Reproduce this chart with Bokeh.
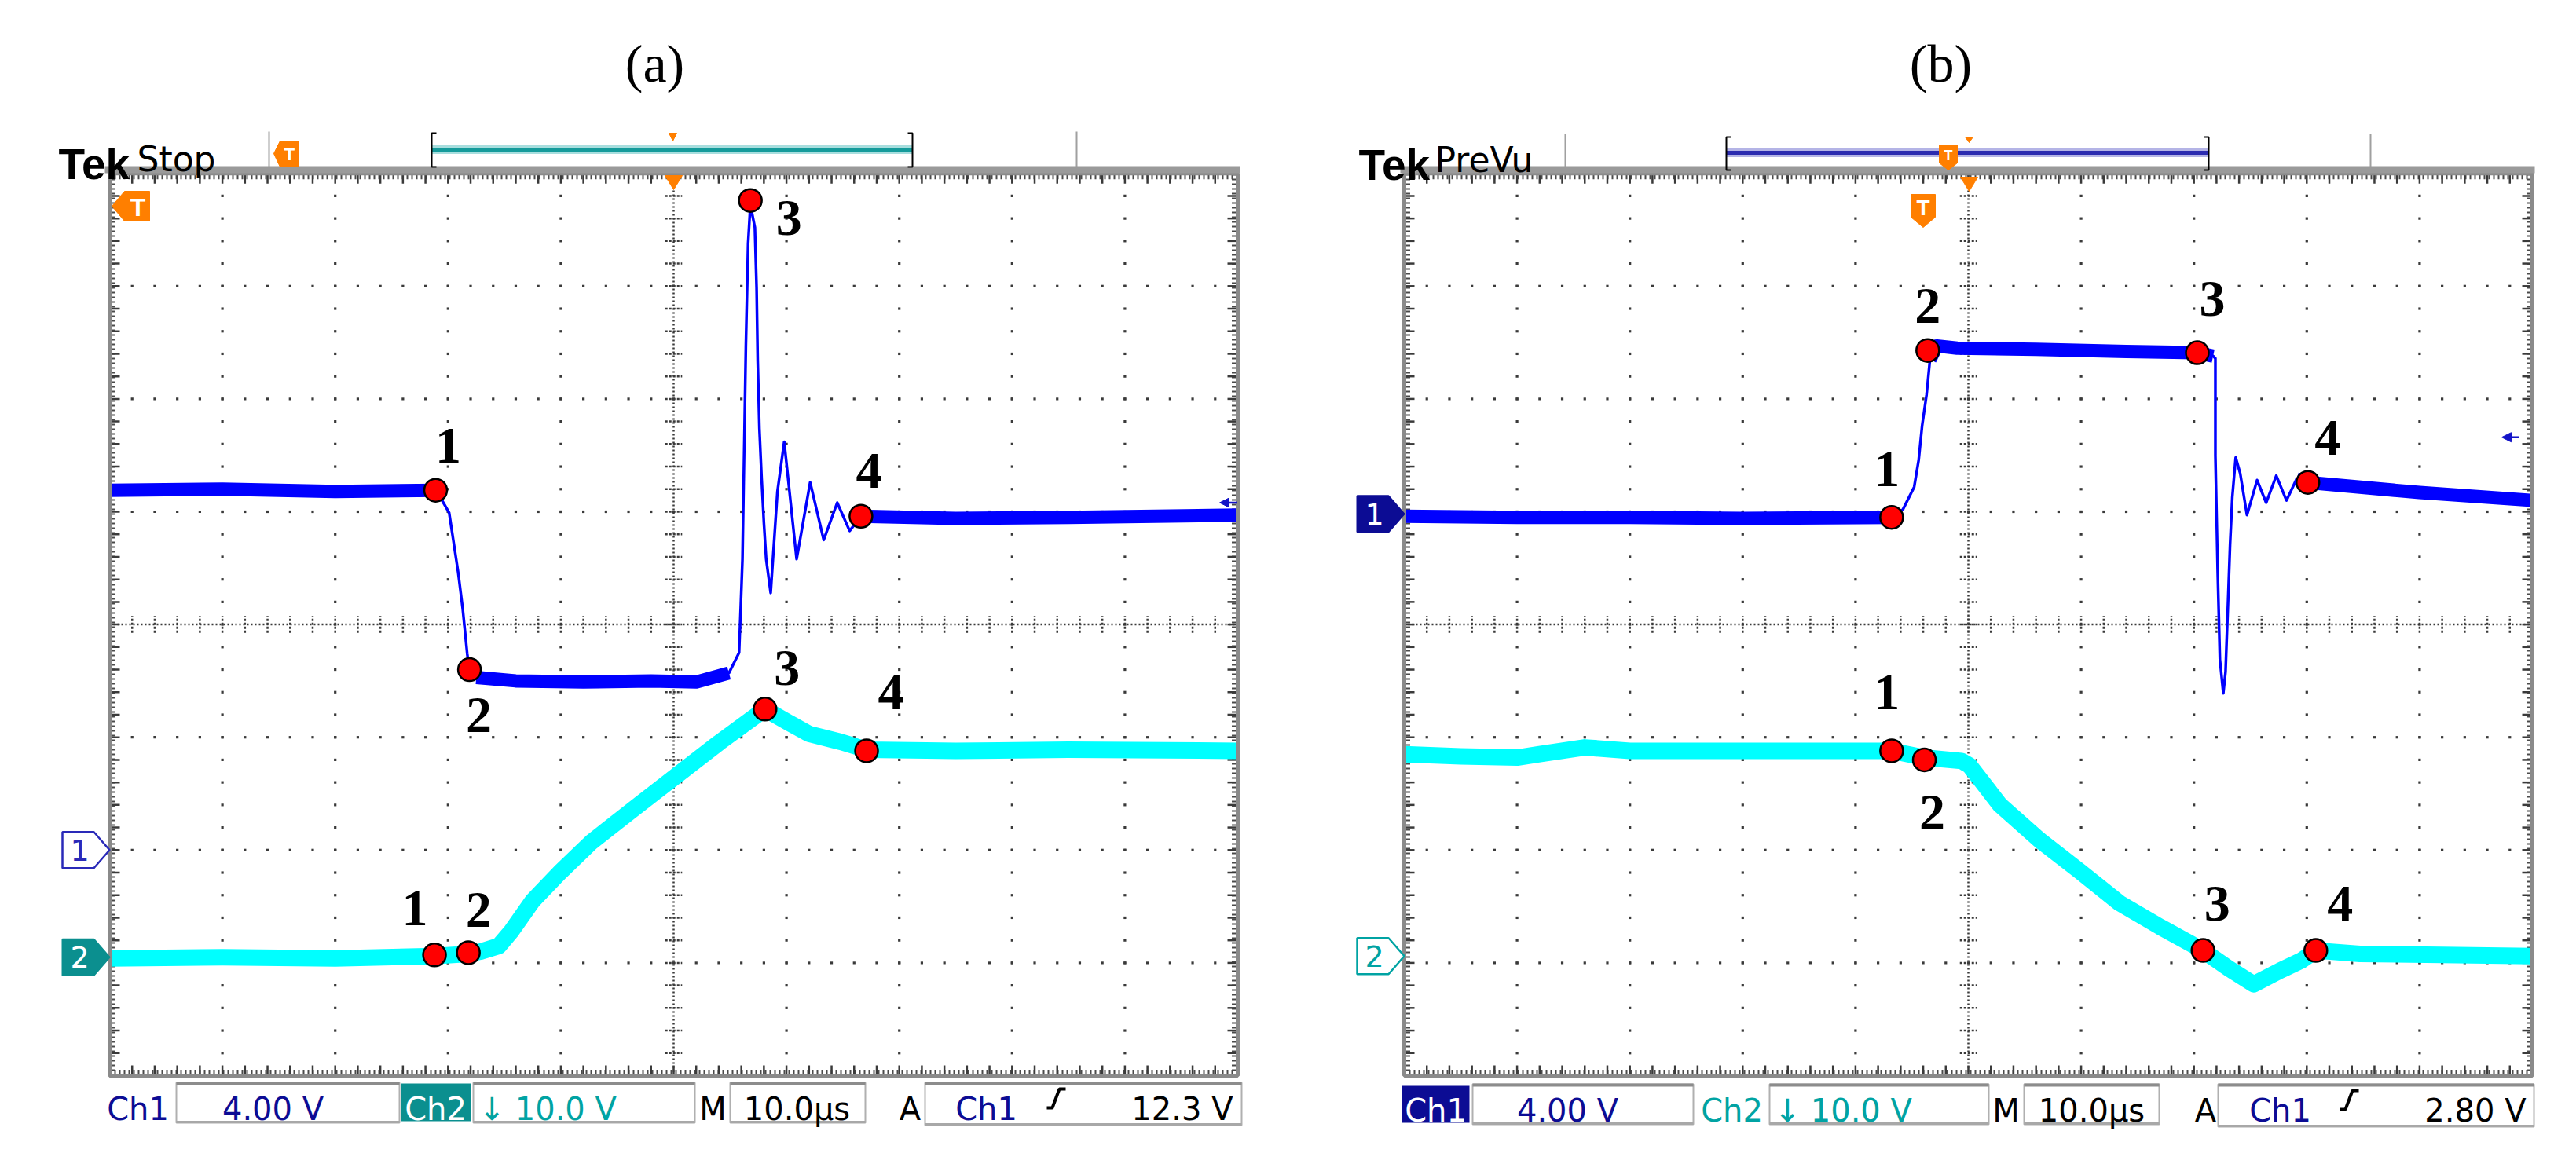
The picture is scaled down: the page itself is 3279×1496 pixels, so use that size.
from bokeh.plotting import figure
from bokeh.layouts import row
from bokeh.models import Range1d
from bokeh.core.properties import value
from bokeh.embed import file_html
from bokeh.resources import INLINE

# ---------------- data (graticule divisions: x 0..10 = time div (10 us/div), y 0..8 div from bottom)
# panel (a)
a_ch1_t = [0.0, 1.0, 2.0, 2.89, 2.93, 3.01, 3.09, 3.13, 3.17, 3.19, 3.25, 3.6, 4.2, 4.8, 5.2,
           5.49, 5.58, 5.61, 5.62, 5.64, 5.66, 5.68, 5.72, 5.735, 5.745, 5.76, 5.78, 5.80, 5.82,
           5.86, 5.92, 5.98, 6.09, 6.21, 6.33, 6.45, 6.56, 6.66, 7.5, 8.5, 10.0]
a_ch1_v = [5.19, 5.20, 5.18, 5.19, 5.13, 4.99, 4.46, 4.14, 3.74, 3.60, 3.53, 3.50, 3.49, 3.50, 3.49,
           3.57, 3.75, 4.58, 5.22, 6.47, 7.38, 7.72, 7.52, 6.99, 6.34, 5.74, 5.29, 4.90, 4.58,
           4.28, 5.18, 5.62, 4.58, 5.26, 4.75, 5.08, 4.83, 4.96, 4.94, 4.95, 4.97]
a_ch1_mt = [2.89, 3.19, 5.68, 6.66]
a_ch1_mv = [5.19, 3.60, 7.76, 4.96]

a_ch2_t = [0.0, 1.0, 2.0, 2.88, 3.18, 3.29, 3.45, 3.56, 3.75, 4.00, 4.27, 4.60, 5.00, 5.40, 5.81,
           6.02, 6.20, 6.48, 6.71, 7.5, 8.5, 10.0]
a_ch2_v = [1.04, 1.05, 1.04, 1.06, 1.08, 1.10, 1.15, 1.28, 1.55, 1.81, 2.07, 2.33, 2.64, 2.95, 3.25,
           3.13, 3.03, 2.96, 2.89, 2.88, 2.89, 2.88]
a_ch2_mt = [2.88, 3.18, 5.81, 6.71]
a_ch2_mv = [1.07, 1.09, 3.25, 2.88]

# panel (b)
b_ch1_t = [0.0, 1.0, 2.0, 3.0, 4.32, 4.42, 4.52, 4.56, 4.59, 4.63, 4.66, 4.72, 4.9, 5.6, 6.4, 7.03,
           7.17, 7.19, 7.19, 7.21, 7.23, 7.26, 7.28, 7.30, 7.32, 7.34, 7.37, 7.41, 7.47, 7.56, 7.64,
           7.73, 7.82, 7.91, 8.01, 9.0, 10.0]
b_ch1_v = [4.96, 4.95, 4.95, 4.94, 4.95, 5.02, 5.22, 5.46, 5.76, 6.04, 6.35, 6.47, 6.45, 6.44, 6.42, 6.41,
           6.38, 6.36, 5.50, 4.49, 3.69, 3.39, 3.58, 4.14, 4.71, 5.13, 5.48, 5.34, 4.97, 5.28, 5.08,
           5.32, 5.10, 5.29, 5.26, 5.17, 5.10]
b_ch1_mt = [4.32, 4.64, 7.03, 8.01]
b_ch1_mv = [4.95, 6.43, 6.41, 5.26]

b_ch2_t = [0.0, 0.5, 1.0, 1.2, 1.6, 2.0, 3.0, 4.32, 4.61, 4.94, 5.01, 5.28, 5.63, 5.99, 6.34, 6.70,
           7.08, 7.31, 7.53, 7.76, 7.95, 8.08, 8.47, 9.2, 10.0]
b_ch2_v = [2.85, 2.83, 2.82, 2.85, 2.91, 2.88, 2.88, 2.88, 2.82, 2.79, 2.75, 2.40, 2.09, 1.81, 1.53, 1.32,
           1.11, 0.95, 0.81, 0.93, 1.02, 1.11, 1.08, 1.07, 1.06]
b_ch2_mt = [4.32, 4.61, 7.08, 8.08]
b_ch2_mv = [2.88, 2.80, 1.11, 1.11]

point_labels = ["1", "2", "3", "4"]
# channel reference levels and trigger levels (div)
a_ref = {"ch1": 2.0, "ch2": 1.05, "trig": 5.08}
b_ref = {"ch1": 4.98, "ch2": 1.06, "trig": 5.66}

a_status = ["Ch1", "4.00 V", "Ch2", "\u2193 10.0 V", "M", "10.0\u00b5s", "A", "Ch1", "12.3 V"]
b_status = ["Ch1", "4.00 V", "Ch2", "\u2193 10.0 V", "M", "10.0\u00b5s", "A", "Ch1", "2.80 V"]

# ---------------- styling / layout
D = 143.6          # px per division
GB = 1377          # graticule bottom (px from top of page)
BLUE = "#0000ff"
CYAN = "#00ffff"
NAVY = "#0c0c94"
TEALT = "#00a3a3"
TEALF = "#0b8f8f"
ORANGE = "#ff7f00"
SANS = "DejaVu Sans"


def make_panel(gl, cx0, cx1):
    X = lambda px: (px - gl) / D
    Y = lambda py: (GB - py) / D
    p = figure(width=cx1 - cx0, height=1480,
               x_range=Range1d(X(cx0), X(cx1)), y_range=Range1d(Y(1488), Y(8)),
               output_backend="svg", toolbar_location=None, min_border=0,
               x_axis_location=None, y_axis_location=None)
    p.grid.visible = False
    p.outline_line_color = None
    p.background_fill_color = "white"
    p.border_fill_color = "white"
    return p, X, Y


def txt(p, x, y, s, size, color="black", font=SANS, style="normal", align="center", baseline="middle"):
    p.text(x=[x], y=[y], text=[s], text_font=value(font), text_font_size=value(f"{size}px"),
           text_color=color, text_font_style=style, text_align=align, text_baseline=baseline)


def graticule(p):
    p.quad(left=0, right=10, bottom=0, top=8, fill_color="white", line_color=None)
    gx, gy = [], []
    for k in range(1, 10):
        if k == 5:
            continue
        for j in range(1, 40):
            gx.append(k); gy.append(j * 0.2)
    for k in range(1, 8):
        if k == 4:
            continue
        for j in range(1, 50):
            gx.append(j * 0.2); gy.append(k)
    p.scatter(gx, gy, marker="square", size=3.2, fill_color="#3a3a3a", line_color=None)
    # centre cross
    p.segment(x0=[5, 0], y0=[0, 4], x1=[5, 10], y1=[8, 4], line_color="#3a3a3a",
              line_width=2.5, line_dash="2 3")
    tv = [j * 0.2 for j in range(1, 40)]
    th = [j * 0.2 for j in range(1, 50)]
    h = 0.075
    p.segment(x0=[5 - h] * len(tv), y0=tv, x1=[5 + h] * len(tv), y1=tv,
              line_color="#3a3a3a", line_width=2.5, line_dash="3 2")
    p.segment(x0=th, y0=[4 - h] * len(th), x1=th, y1=[4 + h] * len(th),
              line_color="#3a3a3a", line_width=2.5, line_dash="3 2")
    # edge rulers
    e = 4 / D
    p.segment(x0=[0, 0, e, 10 - e], y0=[8 - e, e, 0, 0], x1=[10, 10, e, 10 - e], y1=[8 - e, e, 8, 8],
              line_color="#4a4a4a", line_width=7, line_dash="2 4")
    L = 13 / D
    p.segment(x0=th, y0=[8] * len(th), x1=th, y1=[8 - L] * len(th), line_color="#3a3a3a", line_width=2.5)
    p.segment(x0=th, y0=[0] * len(th), x1=th, y1=[L] * len(th), line_color="#3a3a3a", line_width=2.5)
    p.segment(x0=[0] * len(tv), y0=tv, x1=[L] * len(tv), y1=tv, line_color="#3a3a3a", line_width=2.5)
    p.segment(x0=[10] * len(tv), y0=tv, x1=[10 - L] * len(tv), y1=tv, line_color="#3a3a3a", line_width=2.5)


def border(p):
    p.quad(left=0, right=10, bottom=0, top=8, fill_color=None, line_color="#8a8a8a", line_width=5)


def trace(p, t, v, color, thin, thick, intervals):
    p.line(t, v, line_color=color, line_width=thin, line_join="round")
    for a, b in intervals:
        idx = [i for i, tt in enumerate(t) if a <= tt <= b]
        p.line([t[i] for i in idx], [v[i] for i in idx], line_color=color,
               line_width=thick, line_join="round")


def points(p, mt, mv, dx, dy):
    p.scatter(mt, mv, marker="circle", size=29, fill_color="#ff0000", line_color="black", line_width=2.5)
    lx = [t + a / D for t, a in zip(mt, dx)]
    ly = [v - b / D for v, b in zip(mv, dy)]
    p.text(x=lx, y=ly, text=point_labels, text_font=value("Liberation Serif"),
           text_font_size=value("66px"), text_color="black", text_align="center",
           text_baseline="middle", text_font_style="bold")


def poly(p, X, Y, pts, fill, line=None, lw=2, dash="solid"):
    p.patch([X(a) for a, b in pts], [Y(b) for a, b in pts], fill_color=fill,
            line_color=line, line_width=lw, line_dash=dash)


def ch_marker(p, X, Y, gl, level, label, color, filled):
    ymid = GB - level * D
    pts = [(gl - 60, ymid - 23), (gl - 20, ymid - 23), (gl, ymid), (gl - 20, ymid + 23), (gl - 60, ymid + 23)]
    if filled:
        poly(p, X, Y, pts, color, color, 2)
        txt(p, X(gl - 38), level, label, 38, "white")
    else:
        poly(p, X, Y, pts, "white", color, 2.5)
        txt(p, X(gl - 38), level, label, 38, color)


def status_box(p, X, Y, x0, x1, y0, y1):
    p.quad(left=X(x0), right=X(x1), top=Y(y0), bottom=Y(y1), fill_color="white",
           line_color="#b0b0b0", line_width=2)
    p.segment(x0=X(x0), y0=Y(y0 + 1), x1=X(x1), y1=Y(y0 + 1), line_color="#8c8c8c", line_width=4)
    p.segment(x0=X(x0), y0=Y(y1 - 1), x1=X(x1), y1=Y(y1 - 1), line_color="#a8a8a8", line_width=3)


def slope_icon(p, X, Y, x0, yb):
    p.line([X(x0), X(x0 + 7), X(x0 + 16), X(x0 + 24)], [Y(yb), Y(yb), Y(yb - 24), Y(yb - 24)],
           line_color="black", line_width=4)


def trig_arrow(p, X, xr, level):
    p.patch([X(xr - 14), X(xr - 2), X(xr - 2)], [level, level + 6 / D, level - 6 / D],
            fill_color="#1414c8", line_color="#1414c8")
    p.segment(x0=X(xr - 2), y0=level, x1=X(xr + 8), y1=level, line_color="#1414c8", line_width=2.5)


FS = 40
BASE = 1419
W1, W2 = 17, 21

# ======================= panel (a)
pa, Xa, Ya = make_panel(147, 8, 1640)
graticule(pa)
trace(pa, a_ch2_t, a_ch2_v, CYAN, W2, W2, [])
trace(pa, a_ch1_t, a_ch1_v, BLUE, 3.5, W1, [(0, 2.9), (3.22, 5.5), (6.6, 10)])
border(pa)
points(pa, a_ch1_mt, a_ch1_mv, [16, 12, 49, 10], [-57, 58, 22, -58])
points(pa, a_ch2_mt, a_ch2_mv, [-25, 13, 28, 31], [-59, -54, -52, -74])
ch_marker(pa, Xa, Ya, 147, a_ref["ch1"], "1", "#2a2ab8", False)
ch_marker(pa, Xa, Ya, 147, a_ref["ch2"], "2", TEALF, True)
trig_arrow(pa, Xa, 1574, a_ref["trig"])
# title
txt(pa, Xa(841), Ya(88), "(a)", 68, font="Liberation Serif")
# header
pa.segment(x0=[Xa(350), Xa(1378)], y0=[Ya(175)] * 2, x1=[Xa(350), Xa(1378)], y1=[Ya(222)] * 2,
           line_color="#a0a0a0", line_width=2)
pa.quad(left=Xa(141), right=Xa(1586), top=Ya(219), bottom=Ya(228), fill_color="#9a9a9a", line_color=None)
txt(pa, Xa(82), Ya(216), "Tek", 55, font="Liberation Sans", style="bold", align="left", baseline="alphabetic")
txt(pa, Xa(182), Ya(210), "Stop", 44, font=SANS, align="left", baseline="alphabetic")
pa.segment(x0=Xa(557), y0=Ya(198), x1=Xa(1169), y1=Ya(198), line_color="#a8dede", line_width=11)
pa.segment(x0=Xa(557), y0=Ya(198), x1=Xa(1169), y1=Ya(198), line_color="#159b9b", line_width=5)
pa.line([Xa(563), Xa(557), Xa(557), Xa(563)], [Ya(177), Ya(177), Ya(220), Ya(220)], line_color="black", line_width=2)
pa.line([Xa(1163), Xa(1169), Xa(1169), Xa(1163)], [Ya(177), Ya(177), Ya(220), Ya(220)], line_color="black", line_width=2)
poly(pa, Xa, Ya, [(356, 203), (364, 187), (387, 187), (387, 220), (364, 220)], ORANGE, ORANGE, 1)
txt(pa, Xa(376), Ya(204), "T", 22, "white", font="Liberation Sans", style="bold")
poly(pa, Xa, Ya, [(859, 177), (869, 177), (864, 187)], ORANGE, ORANGE, 1)
poly(pa, Xa, Ya, [(854, 231), (876, 231), (865, 249)], ORANGE, ORANGE, 1)
poly(pa, Xa, Ya, [(150, 270), (166, 251), (198, 251), (198, 289), (166, 289)], ORANGE, ORANGE, 1)
txt(pa, Xa(183), Ya(271), "T", 32, "white", font="Liberation Sans", style="bold")
# status bar
status_box(pa, Xa, Ya, 232, 516, 1386, 1437)
status_box(pa, Xa, Ya, 610, 892, 1386, 1437)
status_box(pa, Xa, Ya, 937, 1109, 1386, 1437)
status_box(pa, Xa, Ya, 1185, 1588, 1386, 1440)
pa.quad(left=Xa(518), right=Xa(607), top=Ya(1387), bottom=Ya(1435), fill_color=TEALF, line_color=None)
txt(pa, Xa(183), Ya(BASE), a_status[0], FS, NAVY, baseline="alphabetic")
txt(pa, Xa(355), Ya(BASE), a_status[1], FS, NAVY, baseline="alphabetic")
txt(pa, Xa(562), Ya(BASE), a_status[2], FS, "white", baseline="alphabetic")
txt(pa, Xa(617), Ya(BASE), a_status[3], FS, TEALT, align="left", baseline="alphabetic")
txt(pa, Xa(915), Ya(BASE), a_status[4], FS, "black", baseline="alphabetic")
txt(pa, Xa(1022), Ya(BASE), a_status[5], FS, "black", baseline="alphabetic")
txt(pa, Xa(1166), Ya(BASE), a_status[6], FS, "black", baseline="alphabetic")
txt(pa, Xa(1263), Ya(BASE), a_status[7], FS, NAVY, baseline="alphabetic")
slope_icon(pa, Xa, Ya, 1340, 1418)
txt(pa, Xa(1577), Ya(BASE), a_status[8], FS, "black", align="right", baseline="alphabetic")

# ======================= panel (b)
pb, Xb, Yb = make_panel(1795, 1640, 3271)
graticule(pb)
trace(pb, b_ch2_t, b_ch2_v, CYAN, W2, W2, [])
trace(pb, b_ch1_t, b_ch1_v, BLUE, 3.5, W1, [(0, 4.33), (4.66, 7.17), (7.9, 10)])
border(pb)
points(pb, b_ch1_mt, b_ch1_mv, [-6, 0, 19, 25], [-61, -57, -69, -57])
points(pb, b_ch2_mt, b_ch2_mv, [-6, 10, 18, 31], [-74, 67, -60, -60])
ch_marker(pb, Xb, Yb, 1795, b_ref["ch1"], "1", NAVY, True)
ch_marker(pb, Xb, Yb, 1795, b_ref["ch2"], "2", TEALT, False)
trig_arrow(pb, Xb, 3206, b_ref["trig"])
txt(pb, Xb(2478), Yb(88), "(b)", 68, font="Liberation Serif")
pb.segment(x0=[Xb(2000), Xb(3025)], y0=[Yb(178)] * 2, x1=[Xb(2000), Xb(3025)], y1=[Yb(222)] * 2,
           line_color="#a0a0a0", line_width=2)
pb.quad(left=Xb(1790), right=Xb(3234), top=Yb(219), bottom=Yb(228), fill_color="#9a9a9a", line_color=None)
txt(pb, Xb(1737), Yb(217), "Tek", 55, font="Liberation Sans", style="bold", align="left", baseline="alphabetic")
txt(pb, Xb(1834), Yb(211), "PreVu", 44, font=SANS, align="left", baseline="alphabetic")
pb.segment(x0=Xb(2205), y0=Yb(202), x1=Xb(2819), y1=Yb(202), line_color="#b4b4e6", line_width=11)
pb.segment(x0=Xb(2205), y0=Yb(202), x1=Xb(2819), y1=Yb(202), line_color="#2b2bb0", line_width=5)
pb.line([Xb(2211), Xb(2205), Xb(2205), Xb(2211)], [Yb(182), Yb(182), Yb(224), Yb(224)], line_color="black", line_width=2)
pb.line([Xb(2813), Xb(2819), Xb(2819), Xb(2813)], [Yb(182), Yb(182), Yb(224), Yb(224)], line_color="black", line_width=2)
poly(pb, Xb, Yb, [(2476, 192), (2499, 192), (2499, 215), (2487.5, 224), (2476, 215)], ORANGE, ORANGE, 1)
txt(pb, Xb(2487.5), Yb(205), "T", 18, "white", font="Liberation Sans", style="bold")
poly(pb, Xb, Yb, [(2509, 182), (2519, 182), (2514, 189)], ORANGE, ORANGE, 1)
poly(pb, Xb, Yb, [(2503, 233), (2525, 233), (2514, 251)], ORANGE, ORANGE, 1)
poly(pb, Xb, Yb, [(2440, 255), (2471, 255), (2471, 284), (2455.5, 297), (2440, 284)], ORANGE, ORANGE, 1)
txt(pb, Xb(2455.5), Yb(272), "T", 28, "white", font="Liberation Sans", style="bold")
status_box(pb, Xb, Yb, 1882, 2163, 1388, 1439)
status_box(pb, Xb, Yb, 2260, 2539, 1388, 1439)
status_box(pb, Xb, Yb, 2584, 2756, 1388, 1439)
status_box(pb, Xb, Yb, 2831, 3233, 1388, 1442)
pb.quad(left=Xb(1792), right=Xb(1878), top=Yb(1390), bottom=Yb(1437), fill_color=NAVY, line_color=None)
txt(pb, Xb(1835), Yb(BASE + 2), b_status[0], FS, "white", baseline="alphabetic")
txt(pb, Xb(2003), Yb(BASE + 2), b_status[1], FS, NAVY, baseline="alphabetic")
txt(pb, Xb(2212), Yb(BASE + 2), b_status[2], FS, TEALT, baseline="alphabetic")
txt(pb, Xb(2266), Yb(BASE + 2), b_status[3], FS, TEALT, align="left", baseline="alphabetic")
txt(pb, Xb(2561), Yb(BASE + 2), b_status[4], FS, "black", baseline="alphabetic")
txt(pb, Xb(2670), Yb(BASE + 2), b_status[5], FS, "black", baseline="alphabetic")
txt(pb, Xb(2815), Yb(BASE + 2), b_status[6], FS, "black", baseline="alphabetic")
txt(pb, Xb(2910), Yb(BASE + 2), b_status[7], FS, NAVY, baseline="alphabetic")
slope_icon(pb, Xb, Yb, 2986, 1420)
txt(pb, Xb(3223), Yb(BASE + 2), b_status[8], FS, "black", align="right", baseline="alphabetic")

layout = row(pa, pb)
open("out.html", "w").write(file_html(layout, INLINE))
